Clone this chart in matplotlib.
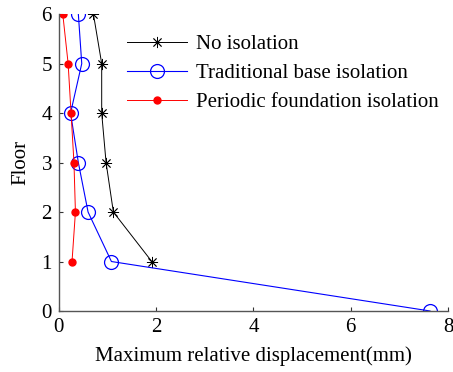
import matplotlib.pyplot as plt

plt.rcParams['font.family'] = ['Liberation Serif', 'DejaVu Serif']

# floors 0..6
floors = [0, 1, 2, 3, 4, 5, 6]
floors_no = [1, 2, 3, 4, 5, 6]
no_iso = [1.91, 1.12, 0.97, 0.88, 0.88, 0.71]
trad_iso = [7.63, 1.08, 0.60, 0.40, 0.24, 0.47, 0.40]
periodic_iso = [0.27, 0.34, 0.31, 0.25, 0.19, 0.08]

fig = plt.figure(figsize=(4.53, 3.72), dpi=100)
ax = fig.add_axes([0.130, 0.164, 0.859, 0.798])

ax.plot(no_iso, floors_no, color='black', lw=0.7, marker=(8, 2, 0),
        ms=8, mew=0.6, label='No isolation')
ax.plot(trad_iso, floors, color='blue', lw=0.8, marker='o', ms=10,
        mfc='none', mec='blue', mew=0.9, label='Traditional base isolation')
ax.plot(periodic_iso, floors_no, color='red', lw=0.7, marker='o', ms=5,
        mfc='red', mec='red', label='Periodic foundation isolation')

ax.set_xlim(0, 8)
ax.set_ylim(0, 6)
ax.set_xticks([0, 2, 4, 6, 8])
ax.set_yticks([0, 1, 2, 3, 4, 5, 6])
ax.tick_params(direction='in', length=3, labelsize=15, colors='#333333',
               labelcolor='black')
ax.tick_params(axis='x', pad=5)
ax.tick_params(axis='y', pad=5)
for s in ['top', 'right']:
    ax.spines[s].set_visible(False)
for s in ['left', 'bottom']:
    ax.spines[s].set_color('#555555')
    ax.spines[s].set_linewidth(1.0)

ax.set_xlabel('Maximum relative displacement(mm)', fontsize=15, labelpad=7)
ax.set_ylabel('Floor', fontsize=15, labelpad=8)

ax.legend(loc='upper left', bbox_to_anchor=(0.175, 0.93), frameon=False,
          fontsize=15, handlelength=2.9, handletextpad=0.4, labelspacing=0.45,
          borderaxespad=0, borderpad=0)

fig.savefig('out.png', dpi=100)
